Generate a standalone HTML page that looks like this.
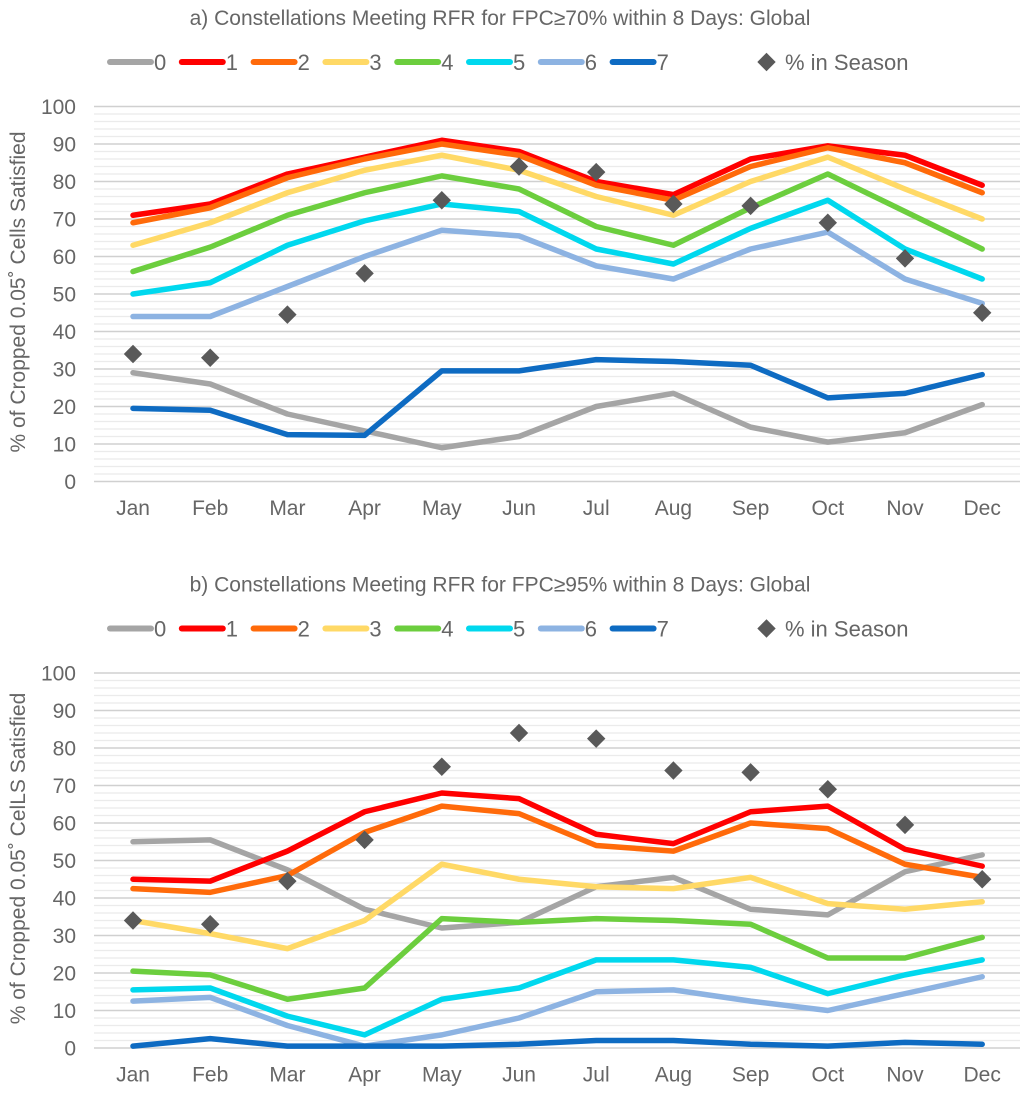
<!DOCTYPE html>
<html><head><meta charset="utf-8"><style>
body{margin:0;background:#fff;font-family:"Liberation Sans",sans-serif;}
svg text{font-family:"Liberation Sans",sans-serif;fill:#666666;}
</style></head><body>
<svg id="svg" width="1024" height="1090" xmlns="http://www.w3.org/2000/svg"></svg>
<script>
const months=["Jan","Feb","Mar","Apr","May","Jun","Jul","Aug","Sep","Oct","Nov","Dec"];
const seriesNames=["0","1","2","3","4","5","6","7"];
const colors=["#A5A5A5","#FF0000","#FF6A0A","#FFD966","#6CCE3E","#00D8EE","#8DB3E2","#0E6BC2"];
const season=[34,33,44.5,55.5,75,84,82.5,74,73.5,69,59.5,45];
const a0=[29,26,18,13.5,9,12,20,23.5,14.5,10.5,13,20.5];
const a1=[71,74,82,86.5,91,88,80,76.5,86,89.5,87,79];
const a2=[69,73,81,86,90,87,79,75,84,89,85,77];
const a3=[63,69,77,83,87,83,76,71,80,86.5,78,70];
const a4=[56,62.5,71,77,81.5,78,68,63,73,82,72,62];
const a5=[50,53,63,69.5,74,72,62,58,67.5,75,62,54];
const a6=[44,44,52,60,67,65.5,57.5,54,62,66.5,54,47.5];
const a7=[19.5,19,12.5,12.3,29.5,29.5,32.5,32,31,22.3,23.5,28.5];
const b0=[55,55.5,47.5,37,32,33.5,43,45.5,37,35.5,47,51.5];
const b1=[45,44.5,52.5,63,68,66.5,57,54.5,63,64.5,53,48.5];
const b2=[42.5,41.5,46,57.5,64.5,62.5,54,52.5,60,58.5,49,45.5];
const b3=[34,30.5,26.5,34,49,45,43,42.5,45.5,38.5,37,39];
const b4=[20.5,19.5,13,16,34.5,33.5,34.5,34,33,24,24,29.5];
const b5=[15.5,16,8.5,3.5,13,16,23.5,23.5,21.5,14.5,19.5,23.5];
const b6=[12.5,13.5,6,0.5,3.5,8,15,15.5,12.5,10,14.5,19];
const b7=[0.5,2.5,0.5,0.5,0.5,1,2,2,1,0.5,1.5,1];
const yTicks=[0,10,20,30,40,50,60,70,80,90,100];
const titles=["a) Constellations Meeting RFR for FPC\u226570% within 8 Days: Global","b) Constellations Meeting RFR for FPC\u226595% within 8 Days: Global"];
const yTitles=["% of Cropped 0.05\u02da Cells Satisfied","% of Cropped 0.05\u02da CelLS Satisfied"];
const NS="http://www.w3.org/2000/svg";
const svg=document.getElementById('svg');
function mk(tag,attrs,parent,text){const e=document.createElementNS(NS,tag);for(const k in attrs)e.setAttribute(k,attrs[k]);if(text!==undefined)e.textContent=text;parent.appendChild(e);return e;}
function drawChart(off,data,idx){
  const g=mk('g',{},svg);
  
  
  const X=i=>133+i*77.2;
  const Y=v=>481.5+off-v*3.75;
  const t=mk('text',{x:500,y:25+off,'font-size':21,'text-anchor':'middle'},g,titles[idx]);
  
  
  for(let v=0;v<=100;v+=2){
    const ln=mk('line',{x1:94,x2:1020,y1:Y(v),y2:Y(v),stroke:v%10===0?'#D0D0D0':'#EBEBEB','stroke-width':v%10===0?1.5:1.2},g);
    
    
  }
  yTicks.forEach(v=>{const e=mk('text',{x:76,y:Y(v)+7.5,'font-size':21,'text-anchor':'end'},g,String(v));
    
    });
  months.forEach((m,i)=>{const e=mk('text',{x:X(i),y:515+off,'font-size':21,'text-anchor':'middle'},g,m);
    
    });
  const yt=mk('text',{x:0,y:0,'font-size':21,'text-anchor':'middle',transform:`translate(25,${292+off}) rotate(-90)`},g,yTitles[idx]);
  
  
  data.forEach((s,k)=>{
    const p=mk('polyline',{points:s.map((v,i)=>X(i)+','+Y(v)).join(' '),fill:'none',stroke:colors[k],'stroke-width':5.5,'stroke-linejoin':'round','stroke-linecap':'round'},g);
    
    
  });
  season.forEach((v,i)=>{
    const d=mk('rect',{x:X(i)-6.5,y:Y(v)-6.5,width:13,height:13,fill:'#595959',transform:`rotate(45 ${X(i)} ${Y(v)})`},g);
    
    
  });
  const ly=62+off;
  seriesNames.forEach((n,k)=>{
    const lx=110+k*71.8;
    const l=mk('line',{x1:lx,x2:lx+41,y1:ly,y2:ly,stroke:colors[k],'stroke-width':6,'stroke-linecap':'round'},g);
    
    
    const tx=mk('text',{x:lx+44,y:ly+8,'font-size':22},g,n);
    
    
  });
  const dm=mk('rect',{x:760,y:ly-6.5,width:13,height:13,fill:'#595959',transform:`rotate(45 766.5 ${ly})`},g);
  
  
  const st=mk('text',{x:785,y:ly+8,'font-size':22},g,'% in Season');
  
  
}
drawChart(0,[a0,a1,a2,a3,a4,a5,a6,a7],0);
drawChart(566.5,[b0,b1,b2,b3,b4,b5,b6,b7],1);
</script>
</body></html>
